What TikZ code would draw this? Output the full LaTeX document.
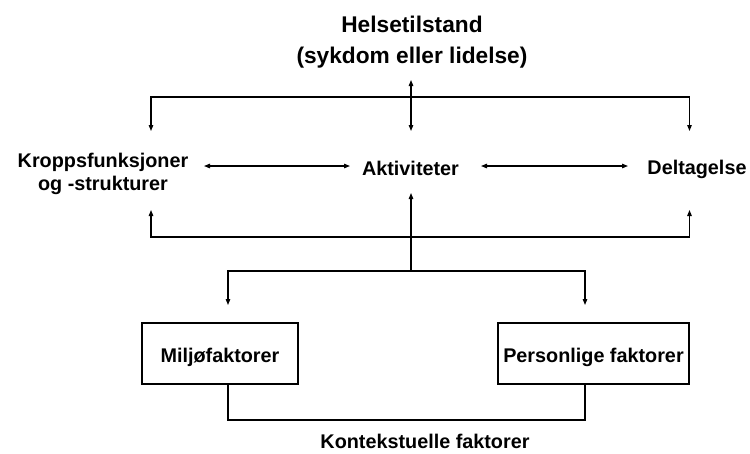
\documentclass[tikz,border=0pt]{standalone}
\usepackage{fontspec}
\setmainfont{Liberation Sans}
\usetikzlibrary{arrows.meta}
\begin{document}
\begin{tikzpicture}[x=1pt,y=1pt,
  line width=1.2pt,
  tip/.style={-{Triangle[length=6pt,width=4.5pt]}},
  biarrow/.style={{Triangle[length=6pt,width=4.5pt]}-{Triangle[length=6pt,width=4.5pt]}},
  bigtxt/.style={font=\fontsize{22.7}{31}\selectfont\bfseries, inner sep=0pt, align=center},
  txt/.style={font=\fontsize{19.8}{23}\selectfont\bfseries, inner sep=0pt, align=center},
  factorbox/.style={draw, line width=1.1pt, font=\fontsize{19.8}{23}\selectfont\bfseries,
    inner sep=0pt, text height=21pt, text depth=4pt}]
\useasboundingbox (0,0) rectangle (750,-453);

% text nodes
\node[bigtxt, anchor=north] (hs) at (412,-15.4) {Helsetilstand\\(sykdom eller lidelse)};
\node[txt, anchor=north] (kf) at (103,-152.5) {Kroppsfunksjoner\\og -strukturer};
\node[txt, anchor=base] (akt) at (410.5,-175) {Aktiviteter};
\node[txt, anchor=base] (del) at (697,-174) {Deltagelse};
\node[factorbox, minimum width=156pt, minimum height=61pt] (mil) at (220,-353.5) {Miljøfaktorer};
\node[factorbox, minimum width=191pt, minimum height=61pt] (pers) at (593.5,-353.5) {Personlige faktorer};
\node[txt, anchor=base] (kon) at (425,-448) {Kontekstuelle faktorer};

% junction coordinates
\coordinate (hsTop) at (411,-80);
\coordinate (hsBot) at (411,-131);
\coordinate (kfTop) at (151,-131);
\coordinate (delTop) at (689.5,-131);
\coordinate (topBar) at (411,-97);
\coordinate (kfL) at (204,-166);
\coordinate (aktL) at (350,-166);
\coordinate (aktR) at (481,-166);
\coordinate (delL) at (628,-166);
\coordinate (kfBot) at (151,-210);
\coordinate (delBot) at (689.5,-210);
\coordinate (midBar) at (411,-237);
\coordinate (aktBot) at (411,-193);
\coordinate (lowBar) at (411,-271);
\coordinate (milTop) at (228,-305);
\coordinate (persTop) at (585,-305);
\coordinate (konBar) at (411,-420);

% connectors
\draw[biarrow] (hsTop) -- (hsBot);
\draw[biarrow] (kfTop) |- (topBar) -| (delTop);
\draw[biarrow] (kfL) -- (aktL);
\draw[biarrow] (aktR) -- (delL);
\draw[biarrow] (kfBot) |- (midBar) -| (delBot);
\draw[tip] (lowBar) -- (aktBot);
\draw[biarrow] (milTop) |- (lowBar) -| (persTop);
\draw (mil.south -| milTop) |- (konBar) -| (pers.south -| persTop);
\end{tikzpicture}
\end{document}
